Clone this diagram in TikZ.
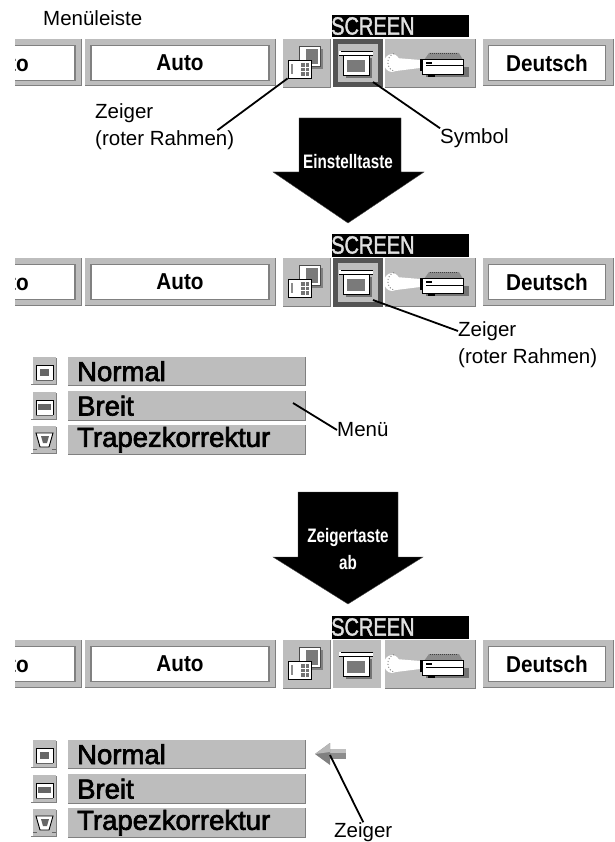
\documentclass[tikz,border=0pt]{standalone}
\usepackage{fontspec}
\setmainfont{Liberation Sans}
\newfontfamily\btnfont[FakeStretch=.9]{Liberation Sans Bold}
\newfontfamily\keyfont[FakeStretch=.78]{Liberation Sans Bold}
\newfontfamily\titlefont[FakeStretch=.8,FakeBold=1.5]{Liberation Sans}
\newfontfamily\menufont[FakeBold=2.5]{Liberation Sans}
\usetikzlibrary{calc}
\definecolor{tilegray}{gray}{.74}
\definecolor{edgegray}{gray}{.5}
\definecolor{framegray}{gray}{.33}
\tikzset{
  lbl/.style={inner sep=0pt, anchor=west, font=\fontsize{20.5}{24}\selectfont},
  leader/.style={line width=1.8pt, black},
  btnface/.style={rectangle, fill=white, draw=edgegray, line width=1.2pt, inner sep=0pt,
    minimum height=35pt, font=\btnfont\fontsize{23}{24}\selectfont},
  keytext/.style={inner sep=0pt, white, font=\keyfont\fontsize{19.5}{22}\selectfont},
  keyarrow/.style={fill=black, draw=black!70, line width=.4pt},
  menurow/.style={rectangle, fill=tilegray, anchor=north west, inner sep=0pt, inner xsep=9pt,
    text width=219pt, font=\menufont\fontsize{27.5}{30}\selectfont},
  tile/.style={rectangle, fill=tilegray, inner sep=0pt},
  window/.style={fill=white, draw=black, line width=.9pt},
  dither/.style={fill=black!52}
}
\begin{document}
\begin{tikzpicture}[x=1pt,y=-1pt]
\useasboundingbox (0,0) rectangle (614,842);
\fill[white] (0,0) rectangle (614,842);

% menu bars
\foreach \y/\n in {39/A,258/B,640/C}{
\begin{scope}[shift={(0,\y)}]
  \fill[tilegray] (15,0) rectangle (81,47);
  \fill[tilegray] (85,0) rectangle (275,47);
  \fill[tilegray] (483,0) rectangle (613,47);
  \draw[edgegray, line width=1pt] (81,0)--(81,47)--(15,47);
  \draw[edgegray, line width=1pt] (275,0)--(275,47)--(85,47);
  \draw[edgegray, line width=1pt] (613,0)--(613,47)--(483,47);
  \begin{scope}
    \clip (15,0) rectangle (81,47);
    \node[btnface, minimum width=70pt] (btnto\n) at (40,24) {};
    \node[inner sep=0pt, font=\btnfont\fontsize{23}{24}\selectfont] (tto\n) at (19,25) {to};
  \end{scope}
  \node[btnface, minimum width=178pt] (btnauto\n) at (180,24) {Auto};
  \node[btnface, minimum width=117pt] (btnsprache\n) at (547,24) {Deutsch};

  \node[tile, minimum width=47pt, minimum height=48pt] (iconbild\n) at (306.5,24) {};
  \draw[edgegray, line width=.8pt] (283,48)--(330,48)--(330,0);
  \fill[edgegray] (302,10) rectangle (323,30);
  \fill[white] (299,7) rectangle (320,27);
  \draw[black!70, line width=.8pt] (299,7) rectangle (320,27);
  \fill[dither] (306,10) rectangle (318,25);
  \node[window, minimum width=23pt, minimum height=18pt, inner sep=0pt] (fenster\n) at (299.5,30) {};
  \fill[black!55] (301,24) rectangle (309,37);
  \draw[white, line width=.7pt] (301,28)--(309,28) (301,32)--(309,32) (305,24)--(305,37);
  \fill[black!45] (291,25) rectangle (293,35);

  \node[tile, minimum width=48pt, minimum height=48pt] (iconschirm\n) at (357,24) {};
  \fill[black!55] (346,19) rectangle (372,39);
  \node[window, minimum width=26pt, minimum height=20pt, inner sep=0pt] (schirm\n) at (356,26) {};
  \fill[dither] (347,21) rectangle (365,33);
  \fill[white] (339,12) rectangle (373,16);
  \draw[black, line width=.9pt] (339,16)--(373,16) (341,12)--(373,12);

  \node[tile, minimum width=91pt, minimum height=48pt] (iconprojektor\n) at (430,24) {};
  \draw[edgegray, line width=.8pt] (385,48)--(475,48)--(475,0);
  \fill[white] (392,24) ellipse (8pt and 9pt);
  \fill[white] (396,19) -- (420,21) -- (420,29) -- (396,32) -- cycle;
  \draw[black!45, line width=1pt, dotted] (394,14.5) arc (-110:-250:9.5pt and -9.5pt);
  \fill[black!55] (426,28) rectangle (469,38);
  \fill[black!45] (429,14) -- (459,14) -- (463,21) -- (424,21) -- cycle;
  \draw[black!75, line width=.8pt, dash pattern=on 1pt off 1pt] (430,14)--(458,14);
  \node[window, minimum width=41pt, minimum height=15pt, inner sep=0pt] (projektor\n) at (443,28) {};
  \draw[black, line width=1.5pt] (421,20)--(421,32);
  \draw[black, line width=1pt] (426,27)--(464,27);
  \fill[black] (426,23) rectangle (432,25);
  \fill[black] (428,35) rectangle (435,38);

  \fill[black] (332,-24) rectangle (469,-1.5);
  \begin{scope}
    \clip (332,-24) rectangle (469,-1.5);
    \node[inner sep=0pt, anchor=west, black!12, font=\titlefont\fontsize{25}{26}\selectfont] (titel\n) at (331,-13) {SCREEN};
  \end{scope}
\end{scope}
}
% red frame
\foreach \y in {39,258}{
  \draw[framegray, line width=5pt] (335.5,\y+2.5) rectangle (380,\y+46);
}

% menus
\foreach \y/\n in {357/A,740/B}{
\begin{scope}[shift={(0,\y)}]
  \node[menurow, minimum height=28pt] (normal\n) at (68,0) {Normal};
  \node[menurow, minimum height=29pt] (breit\n) at (68,34) {Breit};
  \node[menurow, minimum height=29pt] (trapez\n) at (68,68) {Trapezkorrektur};
  \foreach \r in {normal,breit,trapez}{
    \draw[edgegray, line width=1.2pt] (\r\n.north east)--(\r\n.south east)--(\r\n.south west);
  }
  \foreach \k/\t in {0/a,35/b,69/c}{
    \node[tile, minimum width=23pt, minimum height=27pt] (klein\t\n) at (44,\k+13.5) {};
    \draw[edgegray, line width=.8pt] (31,\k+27)--(56,\k+27)--(56,\k+1);
  }
  \fill[white] (36,8) rectangle (53,23);
  \draw[black, line width=.9pt] (36,23)--(36,8)--(53,8)--(53,23);
  \draw[black!60, line width=.9pt] (36,23)--(53,23);
  \fill[black!60] (40,12) rectangle (49,19);
  \fill[white] (36,43) rectangle (53,58);
  \draw[black, line width=.9pt] (36,58)--(36,43)--(53,43)--(53,58);
  \draw[black!60, line width=.9pt] (36,58)--(53,58);
  \fill[black!60] (38,47) rectangle (51,53);
  \fill[white] (36,76) -- (53,76) -- (49,90) -- (40,90) -- cycle;
  \draw[black, line width=.9pt] (36,76) -- (53,76) -- (49,90) -- (40,90) -- cycle;
  \fill[black!60] (41,79) -- (49,79) -- (47,86) -- (43,86) -- cycle;
  \draw[black!60, line width=.7pt] (33,92)--(37,92) (52,92)--(56,92);
\end{scope}
}

% key arrows
\path[keyarrow] (299,118)--(401,118)--(401,172)--(424,172)--(348,223)--(273,172)--(299,172)--cycle;
\node[keytext] (einstell) at (348,162) {Einstelltaste};
\path[keyarrow] (298,492)--(398,492)--(398,557)--(423,557)--(348,604)--(273,557)--(298,557)--cycle;
\node[keytext] (zeigertaste) at (348,537) {Zeigertaste};
\node[keytext] (abtaste) at (348,563) {ab};

% pointer
\fill[black!45] (330,749) rectangle (346,759);
\fill[black!25] (330,749) rectangle (346,753);
\fill[black!50] (315,754)--(330,743)--(330,765)--cycle;
\fill[black!28] (315,754)--(330,743)--(330,752)--cycle;
\coordinate (pfeil) at (330,755);

% labels
\node[lbl] (menuleiste) at (43,18) {Menüleiste};
\node[lbl] (zeigerA) at (95,113) {Zeiger};
\node[lbl] (rahmenA) at (95,140) {(roter Rahmen)};
\node[lbl] (symbol) at (440,138) {Symbol};
\node[lbl] (zeigerB) at (458,331) {Zeiger};
\node[lbl] (rahmenB) at (458,358) {(roter Rahmen)};
\node[lbl] (menu) at (337,430) {Menü};
\node[lbl] (zeigerC) at (334,832) {Zeiger};

% leader lines
\coordinate (rahmenpunktA) at (373,82);
\coordinate (rahmenpunktB) at (373,300);
\coordinate (menupunkt) at (293,403);
\draw[leader] ([xshift=-17pt]rahmenA.north east)--(fensterA.south west);
\draw[leader] (symbol.north west)--(rahmenpunktA);
\draw[leader] (zeigerB.west)--(rahmenpunktB);
\draw[leader] (menu.west)--(menupunkt);
\draw[leader] (zeigerC.north)--(pfeil);
\end{tikzpicture}
\end{document}
